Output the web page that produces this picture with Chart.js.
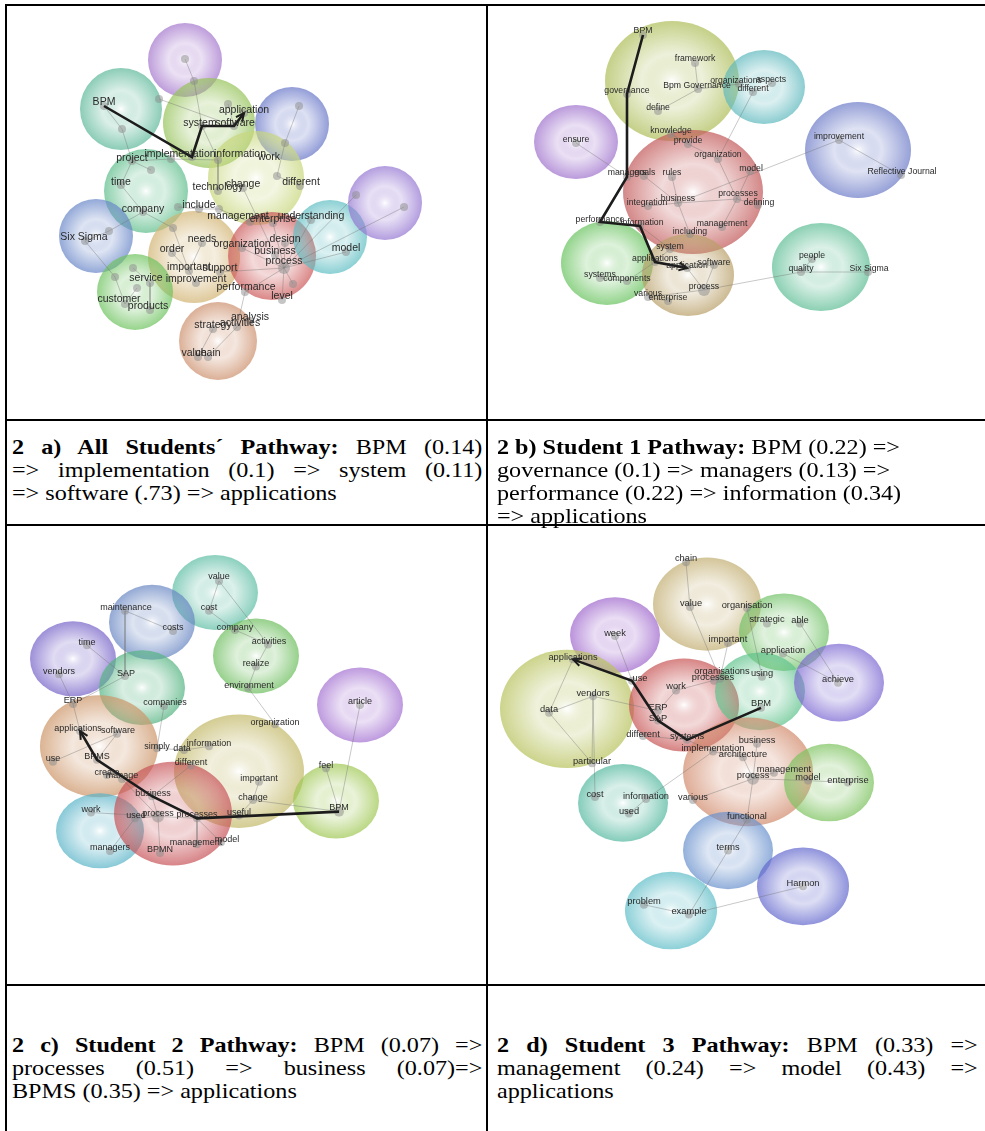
<!DOCTYPE html>
<html>
<head>
<meta charset="utf-8">
<script src="https://cdn.jsdelivr.net/npm/chart.js@4/dist/chart.umd.min.js"></script>
<style>
  body { margin: 0; background: #fff; width: 985px; height: 1131px; overflow: hidden; position: relative; font-family: "Liberation Serif", "Times New Roman", serif; }
  .ln { position: absolute; background: #000; }
  canvas { position: absolute; }
  .cap { position: absolute; font-size: 21px; line-height: 23px; color: #000; }
  .cap div { white-space: nowrap; transform-origin: 0 0; transform: scaleX(1.15); height: 23px; }
  .cap div.j { white-space: normal; text-align: justify; text-align-last: justify; }
</style>
</head>
<body>
<div class="ln" style="left:5px;top:4px;width:980px;height:2px"></div>
<div class="ln" style="left:5px;top:4px;width:2px;height:1127px"></div>
<div class="ln" style="left:486px;top:4px;width:2px;height:1127px"></div>
<div class="ln" style="left:5px;top:419px;width:980px;height:2px"></div>
<div class="ln" style="left:5px;top:524px;width:980px;height:2px"></div>
<div class="ln" style="left:5px;top:984px;width:980px;height:2px"></div>

<canvas id="netA" style="left:7px;top:6px"></canvas>
<canvas id="netB" style="left:488px;top:6px"></canvas>
<canvas id="netC" style="left:7px;top:526px"></canvas>
<canvas id="netD" style="left:488px;top:526px"></canvas>

<div class="cap" style="left:12px;top:436px">
  <div class="j" style="width:409px"><b>2 a) All Students´ Pathway:</b> BPM (0.14)</div>
  <div class="j" style="width:409px">=&gt; implementation (0.1) =&gt; system (0.11)</div>
  <div>=&gt; software (.73) =&gt; applications</div>
</div>
<div class="cap" style="left:497px;top:436px">
  <div><b>2 b) Student 1 Pathway:</b> BPM (0.22) =&gt;</div>
  <div>governance (0.1) =&gt; managers (0.13) =&gt;</div>
  <div>performance (0.22) =&gt; information (0.34)</div>
  <div>=&gt; applications</div>
</div>
<div class="cap" style="left:12px;top:1034px">
  <div class="j" style="width:409px"><b>2 c) Student 2 Pathway:</b> BPM (0.07) =&gt;</div>
  <div class="j" style="width:409px">processes (0.51) =&gt; business (0.07)=&gt;</div>
  <div>BPMS (0.35) =&gt; applications</div>
</div>
<div class="cap" style="left:497px;top:1034px">
  <div class="j" style="width:418px"><b>2 d) Student 3 Pathway:</b> BPM (0.33) =&gt;</div>
  <div class="j" style="width:418px">management (0.24) =&gt; model (0.43) =&gt;</div>
  <div>applications</div>
</div>

<script>
// ---- 2 a) all students ----
const aClusters = [
  [185, 60, 37, 37], [121, 109, 41, 41], [209, 123, 46, 45], [292, 124, 37, 37],
  [256, 178, 48, 47], [146, 191, 42, 42], [96, 236, 37, 37], [194, 257, 46, 46],
  [272, 256, 44, 44], [330, 237, 37, 37], [385, 203, 37, 37], [135, 292, 38, 38],
  [218, 341, 39, 39]
];
const aColors = [
  [165, 120, 205], [95, 185, 155], [150, 195, 90], [105, 120, 200],
  [200, 215, 125], [95, 190, 140], [105, 135, 200], [210, 180, 115],
  [205, 90, 90], [95, 190, 195], [150, 120, 210], [110, 195, 95],
  [205, 145, 110]
];
const aNodes = [
  ['_p1', 185, 59], ['_p2', 194, 81], ['BPM', 104, 106, 0, -4], ['_t1', 122, 129], ['_t2', 159, 99],
  ['_g1', 228, 104], ['application', 244, 113, 0, -3], ['system', 202, 126, -2, -3], ['software', 234, 126, 1, -3],
  ['implementation', 192, 157, -12, -3], ['information', 218, 160, 22, -6], ['work', 285, 143, -16, 14],
  ['_b1', 299, 106], ['project', 132, 161, 0, -3], ['_a3', 151, 170], ['_a4', 171, 159],
  ['time', 121, 185, 0, -3], ['company', 143, 212, 0, -3], ['technology', 218, 191, 0, -4],
  ['change', 243, 188, 0, -4], ['_w1', 277, 176], ['different', 300, 186, 1, -4],
  ['include', 199, 209, 0, -4], ['_i1', 178, 207], ['_i2', 219, 209],
  ['management', 250, 222, -12, -6], ['enterprise', 273, 223, 0, -4], ['understanding', 311, 220, 0, -4],
  ['Six Sigma', 85, 241, -1, -4], ['_s2', 109, 231], ['_c3', 173, 228],
  ['order', 172, 253, 0, -4], ['needs', 202, 243, 0, -4], ['organization', 242, 248, 0, -4],
  ['design', 285, 243, 0, -4], ['business', 275, 255, 0, -4], ['process', 284, 268, 0, -7, 6],
  ['model', 346, 252, 0, -4], ['_pu1', 356, 195], ['_pu2', 404, 207],
  ['important', 189, 271, 0, -4], ['support', 220, 272, 0, -4], ['improvement', 196, 283, 0, -4],
  ['service', 150, 283, -4, -5], ['_g4', 133, 268], ['_g2', 137, 288], ['_g3', 115, 277],
  ['performance', 245, 292, 1, -5], ['level', 282, 300, 0, -4], ['_r1', 293, 284],
  ['customer', 125, 304, -6, -5], ['products', 150, 310, -2, -4],
  ['strategy', 213, 329, 0, -4], ['activities', 237, 327, 3, -4], ['analysis', 250, 321, 0, -4],
  ['value', 198, 357, -4, -4], ['chain', 208, 357, 0, -4]
];
const aEdges = [
  ['_p1', '_p2'], ['_p2', 'system'], ['system', 'information'], ['_t2', 'software'], ['BPM', '_t1'],
  ['_t1', 'project'], ['project', '_a3'], ['project', '_a4'], ['_a4', 'information'], ['project', 'time'],
  ['time', 'company'], ['company', '_s2'], ['_s2', 'Six Sigma'], ['company', '_c3'], ['_c3', 'important'],
  ['Six Sigma', '_g3'], ['_g3', 'customer'], ['_g4', 'service'], ['service', 'products'], ['_g2', 'customer'],
  ['work', '_b1'], ['work', '_w1'], ['_w1', 'different'], ['information', 'technology'], ['change', 'business'],
  ['include', '_i2'], ['_i2', 'management'], ['_i1', 'include'], ['process', 'business'], ['process', 'design'],
  ['process', 'model'], ['process', '_pu2'], ['process', '_pu1'], ['process', 'level'], ['process', 'performance'],
  ['process', '_r1'], ['process', 'organization'], ['process', 'support'], ['process', 'enterprise'],
  ['process', 'understanding'], ['performance', 'activities'], ['activities', 'chain'], ['strategy', 'value'],
  ['order', 'important'], ['needs', 'important'], ['important', 'improvement'], ['_g1', 'software']
];
const aPath = ['BPM', 'implementation', 'system', 'software', 'application'];

// ---- 2 b) student 1 ----
const bClusters = [
  [672, 81, 67, 60], [764, 87, 41, 37], [576, 142, 42, 37], [858, 150, 53, 48],
  [693, 192, 70, 62], [607, 263, 46, 42], [688, 275, 46, 41], [821, 267, 49, 44]
];
const bColors = [
  [175, 190, 90], [95, 185, 190], [160, 115, 205], [110, 125, 200],
  [195, 90, 90], [105, 195, 95], [185, 160, 105], [95, 190, 150]
];
const bNodes = [
  ['BPM', 643, 35, 0, -4], ['framework', 695, 63, 0, -4], ['Bpm Governance', 698, 89, -1, -3],
  ['governance', 627, 94, 0, -3], ['define', 658, 111, 0, -3], ['organizations', 739, 84, -3, -3],
  ['aspects', 772, 83, -1, -3], ['different', 753, 92, 0, -3], ['knowledge', 671, 134, 0, -3],
  ['provide', 688, 144, 0, -3], ['ensure', 576, 143, 0, -3], ['improvement', 839, 140, 0, -3],
  ['Reflective Journal', 901, 175, 1, -3], ['organization', 718, 159, 0, -4], ['managers', 627, 177, 0, -4],
  ['goals', 644, 176, 1, -3], ['rules', 672, 177, 0, -4], ['model', 750, 171, 1, -2],
  ['business', 678, 203, 0, -4], ['integration', 648, 206, -1, -3], ['processes', 737, 199, 1, -5],
  ['defining', 758, 205, 1, -2], ['performance', 600, 222, 0, -2], ['information', 640, 226, 2, -3],
  ['management', 722, 227, 0, -3], ['including', 690, 234, 0, -2], ['system', 670, 249, 0, -2],
  ['applications', 655, 262, 0, -3], ['application', 687, 268, 0, -2], ['software', 714, 265, 0, -2],
  ['systems', 600, 278, 0, -3], ['components', 627, 281, 0, -2], ['process', 704, 290, 0, -3, 6],
  ['various', 648, 297, 0, -3], ['enterprise', 668, 301, 0, -3], ['people', 812, 259, 0, -3],
  ['quality', 801, 272, 0, -3], ['Six Sigma', 868, 272, 1, -3]
];
const bEdges = [
  ['framework', 'Bpm Governance'], ['Bpm Governance', 'define'], ['Bpm Governance', 'organizations'],
  ['organizations', 'different'], ['aspects', 'different'], ['different', 'organization'],
  ['knowledge', 'provide'], ['provide', 'organization'], ['ensure', 'managers'], ['goals', 'business'],
  ['rules', 'business'], ['business', 'integration'], ['business', 'processes'], ['business', 'including'],
  ['organization', 'processes'], ['model', 'processes'], ['processes', 'defining'], ['processes', 'management'],
  ['business', 'improvement'], ['improvement', 'Reflective Journal'], ['system', 'applications'],
  ['application', 'software'], ['software', 'process'], ['process', 'application'], ['process', 'quality'],
  ['quality', 'people'], ['quality', 'Six Sigma'], ['systems', 'components'], ['components', 'applications'],
  ['various', 'enterprise'], ['various', 'process'], ['information', 'system']
];
const bPath = ['BPM', 'governance', 'managers', 'performance', 'information', 'applications', 'application'];

// ---- 2 c) student 2 ----
const cClusters = [
  [215, 623, 43, 39], [152, 654, 43, 39], [73, 692, 43, 39], [256, 689, 43, 39],
  [142, 722, 43, 39], [360, 740, 43, 39], [99, 783, 59, 53], [239, 809, 65, 59],
  [336, 840, 43, 39], [100, 871, 44, 39], [173, 853, 59, 54]
];
const cColors = [
  [95, 190, 165], [105, 135, 195], [120, 100, 200], [110, 190, 95],
  [85, 180, 130], [165, 115, 210], [205, 150, 105], [195, 185, 105],
  [160, 200, 85], [90, 180, 200], [200, 85, 90]
];
const cNodes = [
  ['value', 219, 611, 0, -4], ['cost', 209, 642, 0, -3], ['maintenance', 125, 642, 1, -3],
  ['costs', 173, 663, 0, -3], ['company', 235, 662, 0, -2], ['activities', 268, 677, 1, -3],
  ['time', 87, 678, 0, -3], ['vendors', 59, 708, 0, -3], ['SAP', 125, 710, 1, -3],
  ['realize', 256, 700, 0, -3], ['environment', 248, 722, 1, -2], ['ERP', 73, 739, 0, -3],
  ['companies', 164, 741, 1, -3], ['article', 360, 740, 0, -3], ['organization', 275, 760, 0, -2],
  ['applications', 80, 767, -2, -2], ['software', 117, 770, 1, -3], ['simply', 157, 785, 0, -2],
  ['data', 184, 787, -2, -2], ['information', 209, 783, 0, -3], ['use', 53, 799, 0, -3],
  ['BPMS', 97, 797, 0, -3], ['different', 191, 803, 0, -3], ['feel', 326, 806, 0, -3],
  ['create', 107, 813, 0, -3], ['manage', 122, 817, 0, -3], ['important', 259, 820, 0, -3],
  ['business', 152, 835, 1, -3], ['change', 253, 839, 0, -3], ['BPM', 339, 851, 0, -4, 5],
  ['work', 91, 852, 0, -3], ['used', 135, 858, 1, -3], ['process', 158, 856, 0, -3, 6],
  ['processes', 197, 858, 0, -4], ['useful', 239, 855, 0, -3], ['management', 197, 885, -1, -2],
  ['model', 221, 883, 6, -3], ['managers', 110, 892, 0, -3], ['BPMN', 160, 894, 0, -3]
];
const cEdges = [
  ['value', 'cost'], ['value', 'activities'], ['maintenance', 'costs'], ['maintenance', 'SAP'],
  ['time', 'SAP'], ['vendors', 'ERP'], ['SAP', 'ERP'], ['companies', 'simply'], ['company', 'activities'],
  ['activities', 'realize'], ['realize', 'environment'], ['environment', 'organization'], ['article', 'BPM'],
  ['feel', 'BPM'], ['BPM', 'change'], ['change', 'important'], ['change', 'useful'], ['useful', 'processes'],
  ['ERP', 'applications'], ['software', 'use'], ['software', 'BPMS'], ['simply', 'data'],
  ['data', 'information'], ['different', 'business'], ['process', 'business'], ['process', 'used'],
  ['process', 'work'], ['process', 'processes'], ['process', 'BPMN'], ['processes', 'management'],
  ['processes', 'model'], ['used', 'managers'], ['create', 'manage'], ['manage', 'process'], ['cost', 'company']
];
const cPath = ['BPM', 'processes', 'business', 'BPMS', 'applications'];

// ---- 2 d) student 3 ----
const dClusters = [
  [707, 633, 54, 48], [615, 665, 45, 39], [784, 662, 45, 40], [567, 741, 67, 61],
  [684, 737, 55, 48], [760, 723, 45, 40], [839, 714, 45, 40], [748, 806, 65, 56],
  [829, 817, 45, 40], [623, 838, 45, 40], [728, 887, 45, 40], [803, 924, 46, 40],
  [671, 949, 46, 40]
];
const dColors = [
  [195, 175, 115], [160, 105, 205], [115, 195, 105], [185, 195, 95],
  [200, 85, 85], [95, 195, 140], [125, 105, 210], [210, 140, 110],
  [125, 195, 95], [85, 185, 160], [105, 145, 205], [100, 105, 205],
  [95, 190, 200]
];
const dNodes = [
  ['chain', 686, 590, 0, -4], ['value', 690, 636, 1, -4], ['organisation', 747, 637, 0, -3],
  ['strategic', 767, 653, 0, -4], ['able', 800, 653, 0, -3], ['week', 615, 666, 0, -3],
  ['important', 728, 673, 0, -3], ['application', 783, 684, 0, -3], ['applications', 573, 690, 0, -2],
  ['achieve', 838, 714, 0, -3], ['organisations', 720, 710, 2, -7], ['processes', 714, 712, -1, -3],
  ['using', 762, 708, 0, -3], ['use', 632, 712, 8, -2], ['work', 676, 722, 0, -4],
  ['vendors', 593, 728, 0, -3], ['data', 549, 745, 0, -3], ['BPM', 761, 740, 0, -4],
  ['ERP', 658, 743, 0, -3], ['SAP', 658, 753, 0, -2], ['different', 643, 769, 0, -2],
  ['systems', 687, 773, 0, -3], ['business', 757, 777, 0, -3], ['implementation', 713, 785, 0, -3],
  ['architecture', 743, 791, 0, -3], ['particular', 592, 797, 0, -2], ['process', 753, 813, 0, -3, 6],
  ['management', 774, 807, 10, -3], ['model', 808, 815, 0, -3], ['enterprise', 848, 817, 0, -2],
  ['cost', 595, 832, 0, -3], ['information', 646, 834, 0, -3], ['various', 693, 835, 0, -3],
  ['used', 629, 849, 0, -2], ['functional', 747, 855, 0, -3], ['terms', 728, 887, 0, -3],
  ['Harmon', 803, 924, 0, -3], ['problem', 644, 943, 0, -3], ['example', 689, 953, 0, -3]
];
const dEdges = [
  ['chain', 'value'], ['value', 'organisations'], ['important', 'organisations'], ['organisation', 'using'],
  ['able', 'achieve'], ['application', 'achieve'], ['week', 'use'], ['applications', 'data'],
  ['vendors', 'data'], ['vendors', 'ERP'], ['vendors', 'particular'], ['vendors', 'cost'],
  ['data', 'particular'], ['work', 'ERP'], ['work', 'organisations'], ['systems', 'different'],
  ['systems', 'implementation'], ['implementation', 'information'], ['information', 'used'],
  ['process', 'business'], ['process', 'architecture'], ['process', 'management'], ['process', 'model'],
  ['model', 'enterprise'], ['process', 'various'], ['process', 'functional'], ['functional', 'terms'],
  ['terms', 'example'], ['example', 'problem'], ['example', 'Harmon'], ['implementation', 'architecture']
];
const dPath = ['BPM', 'systems', 'SAP', 'use', 'applications'];

// draws the soft cluster ellipses under everything, then labels and the arrow head on top
const netPlugin = {
  id: 'net',
  beforeDatasetsDraw(chart) {
    const ctx = chart.ctx, xs = chart.scales.x, ys = chart.scales.y;
    chart.data.datasets.forEach((ds, di) => {
      if (ds.kind !== 'cluster') return;
      chart.getDatasetMeta(di).data.forEach((el, i) => {
        const d = ds.data[i];
        const rx = Math.abs(xs.getPixelForValue(d.x + d.r) - xs.getPixelForValue(d.x));
        const ry = Math.abs(ys.getPixelForValue(d.y + d.ry) - ys.getPixelForValue(d.y));
        const [r, g, b] = ds.colors[i];
        ctx.save();
        ctx.translate(el.x, el.y);
        ctx.scale(1, ry / rx);
        const gr = ctx.createRadialGradient(0, 0, 0, 0, 0, rx);
        gr.addColorStop(0, 'rgba(255,255,255,0.8)');
        gr.addColorStop(0.45, `rgba(${r},${g},${b},0.22)`);
        gr.addColorStop(1, `rgba(${r},${g},${b},0.72)`);
        ctx.fillStyle = gr;
        ctx.beginPath();
        ctx.arc(0, 0, rx, 0, Math.PI * 2);
        ctx.fill();
        ctx.restore();
      });
    });
  },
  afterDatasetsDraw(chart, args, opts) {
    const ctx = chart.ctx;
    chart.data.datasets.forEach((ds, di) => {
      const els = chart.getDatasetMeta(di).data;
      if (ds.kind === 'nodes') {
        ctx.save();
        ctx.font = opts.font + 'px "Liberation Sans", Arial, sans-serif';
        ctx.fillStyle = '#2a2a2a';
        ctx.textAlign = 'center';
        ctx.textBaseline = 'middle';
        els.forEach((el, i) => {
          const d = ds.data[i];
          if (d.label.startsWith('_')) return;
          ctx.fillText(d.label, el.x + d.lx, el.y + d.ly);
        });
        ctx.restore();
      }
      if (ds.kind === 'path' && els.length > 1) {
        const p = els[els.length - 1], q = els[els.length - 2];
        const a = Math.atan2(p.y - q.y, p.x - q.x);
        ctx.save();
        ctx.strokeStyle = '#1c1c1c';
        ctx.lineWidth = 2;
        ctx.beginPath();
        ctx.moveTo(p.x - 9 * Math.cos(a - 0.45), p.y - 9 * Math.sin(a - 0.45));
        ctx.lineTo(p.x, p.y);
        ctx.lineTo(p.x - 9 * Math.cos(a + 0.45), p.y - 9 * Math.sin(a + 0.45));
        ctx.stroke();
        ctx.restore();
      }
    });
  }
};

// box = canvas left/top/width/height on the page; xr / yr = value range shown across it
function makeNet(id, box, xr, yr, clusters, colors, nodes, edges, path, fontPx) {
  const cv = document.getElementById(id);
  cv.width = box[2];
  cv.height = box[3];
  const pos = {};
  nodes.forEach(n => { pos[n[0]] = { x: n[1], y: n[2] }; });

  const datasets = [];
  datasets.push({
    type: 'line', kind: 'path', data: path.map(k => pos[k]),
    borderColor: '#1c1c1c', borderWidth: 2.6, pointRadius: 0, order: 0
  });
  datasets.push({
    type: 'scatter', kind: 'nodes',
    data: nodes.map(n => ({ x: n[1], y: n[2], label: n[0], lx: n[3] || 0, ly: n[4] === undefined ? -4 : n[4] })),
    pointRadius: nodes.map(n => n[5] || 4),
    backgroundColor: 'rgba(140,140,140,0.5)', borderWidth: 0, order: 1
  });
  edges.filter(e => pos[e[0]] && pos[e[1]]).forEach(e => datasets.push({
    type: 'line', kind: 'edge', data: [pos[e[0]], pos[e[1]]],
    borderColor: 'rgba(110,110,110,0.38)', borderWidth: 1, pointRadius: 0, order: 2
  }));
  datasets.push({
    type: 'bubble', kind: 'cluster',
    data: clusters.map(c => ({ x: c[0], y: c[1], r: c[2], ry: c[3] })),
    colors: colors, backgroundColor: 'rgba(0,0,0,0)', borderWidth: 0, radius: 0, order: 3
  });

  new Chart(cv, {
    type: 'scatter',
    data: { datasets },
    options: {
      responsive: false,
      animation: false,
      events: [],
      layout: { autoPadding: false, padding: 0 },
      plugins: { legend: { display: false }, tooltip: { enabled: false }, net: { font: fontPx } },
      scales: {
        x: { type: 'linear', min: xr[0], max: xr[1], display: false },
        y: { type: 'linear', min: yr[0], max: yr[1], reverse: true, display: false }
      }
    },
    plugins: [netPlugin]
  });
}

makeNet('netA', [7, 6, 479, 413], [7, 486], [6, 419], aClusters, aColors, aNodes, aEdges, aPath, 10.5);
makeNet('netB', [488, 6, 497, 413], [488, 985], [6, 419], bClusters, bColors, bNodes, bEdges, bPath, 8.7);
makeNet('netC', [7, 526, 479, 458], [7, 486], [553.8, 1030.4], cClusters, cColors, cNodes, cEdges, cPath, 9);
makeNet('netD', [488, 526, 497, 458], [488, 985], [552.5, 1024.7], dClusters, dColors, dNodes, dEdges, dPath, 9.3);
</script>
</body>
</html>
